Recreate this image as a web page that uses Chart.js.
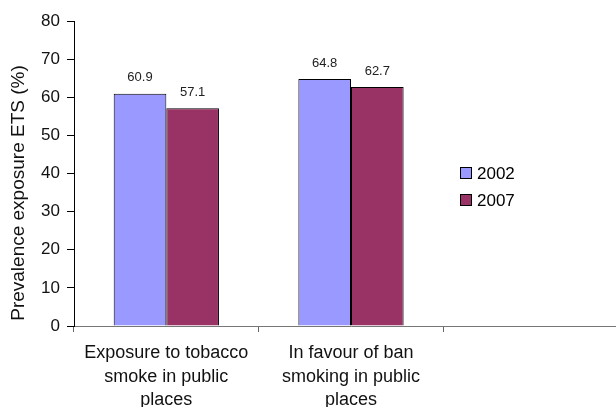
<!DOCTYPE html>
<html>
<head>
<meta charset="utf-8">
<script src="https://cdn.jsdelivr.net/npm/chart.js@4/dist/chart.umd.min.js"></script>
<style>
  html, body { margin: 0; padding: 0; background: #fff; overflow: hidden; }
  #wrap { width: 628px; height: 420px; position: relative; }
</style>
</head>
<body>
<div id="wrap"><canvas id="chart"></canvas></div>
<script>
const categories = [
  ['Exposure to tobacco', 'smoke in public', 'places'],
  ['In favour of ban', 'smoking in public', 'places'],
  ''
];
const years = ['2002', '2007'];
const values2002 = [60.9, 64.8, null];
const values2007 = [57.1, 62.7, null];
const yTicks = [0, 10, 20, 30, 40, 50, 60, 70, 80];
const yTitle = 'Prevalence exposure ETS (%)';

const FONT = "'Liberation Sans', Arial, sans-serif";

// value labels above the bars
const valueLabels = {
  id: 'valueLabels',
  afterDatasetsDraw(chart) {
    const ctx = chart.ctx;
    ctx.save();
    ctx.font = '13px ' + FONT;
    ctx.fillStyle = '#222';
    ctx.textAlign = 'center';
    ctx.textBaseline = 'middle';
    chart.data.datasets.forEach((ds, i) => {
      chart.getDatasetMeta(i).data.forEach((bar, j) => {
        if (ds.data[j] == null) return;
        ctx.fillText(ds.data[j].toFixed(1), bar.x, bar.y - 16);
      });
    });
    ctx.restore();
  }
};

// legend box in the empty third slot + the y title (sits a bit low, like excel)
const extras = {
  id: 'extras',
  afterDraw(chart) {
    const ctx = chart.ctx;
    ctx.save();
    ctx.font = '17px ' + FONT;
    ctx.textBaseline = 'middle';
    chart.data.datasets.forEach((ds, i) => {
      const y = 173 + i * 27;
      ctx.fillStyle = ds.backgroundColor;
      ctx.fillRect(460.5, y - 5.5, 11, 11);
      ctx.strokeStyle = '#000';
      ctx.lineWidth = 1;
      ctx.strokeRect(460.5, y - 5.5, 11, 11);
      ctx.fillStyle = '#000';
      ctx.fillText(ds.label, 477, y + 1);
    });

    ctx.translate(19, 193);
    ctx.rotate(-Math.PI / 2);
    ctx.font = '19px ' + FONT;
    ctx.textAlign = 'center';
    ctx.fillStyle = '#111';
    ctx.fillText(yTitle, 0, 0);
    ctx.restore();
  }
};

new Chart(document.getElementById('chart'), {
  type: 'bar',
  data: {
    labels: categories,
    datasets: [
      {
        label: years[0],
        data: values2002,
        backgroundColor: '#9999ff',
        borderColor: '#000',
        borderWidth: 1
      },
      {
        label: years[1],
        data: values2007,
        backgroundColor: '#993366',
        borderColor: '#000',
        borderWidth: 1
      }
    ]
  },
  options: {
    responsive: true,
    maintainAspectRatio: false,
    animation: false,
    categoryPercentage: 0.57,
    barPercentage: 1,
    layout: { padding: { top: 21, left: 0, right: 0, bottom: 0 } },
    plugins: {
      legend: { display: false },
      tooltip: { enabled: false }
    },
    scales: {
      x: {
        grid: {
          offset: true,
          drawOnChartArea: false,
          color: '#666',
          tickLength: 6
        },
        border: { color: '#777', width: 1 },
        ticks: {
          color: '#111',
          padding: 10,
          maxRotation: 0,
          autoSkip: false,
          font: { family: FONT, size: 18, lineHeight: 1.28 }
        },
        afterFit(scale) { scale.height = 94; }
      },
      y: {
        min: 0,
        max: 80,
        afterBuildTicks(scale) { scale.ticks = yTicks.map(v => ({ value: v })); },
        grid: {
          drawOnChartArea: false,
          color: '#000',
          tickLength: 7
        },
        border: { color: '#000', width: 1 },
        ticks: {
          color: '#111',
          padding: 7,
          font: { family: FONT, size: 17 }
        },
        afterFit(scale) { scale.width = 74; }
      }
    }
  },
  plugins: [valueLabels, extras]
});
</script>
</body>
</html>
